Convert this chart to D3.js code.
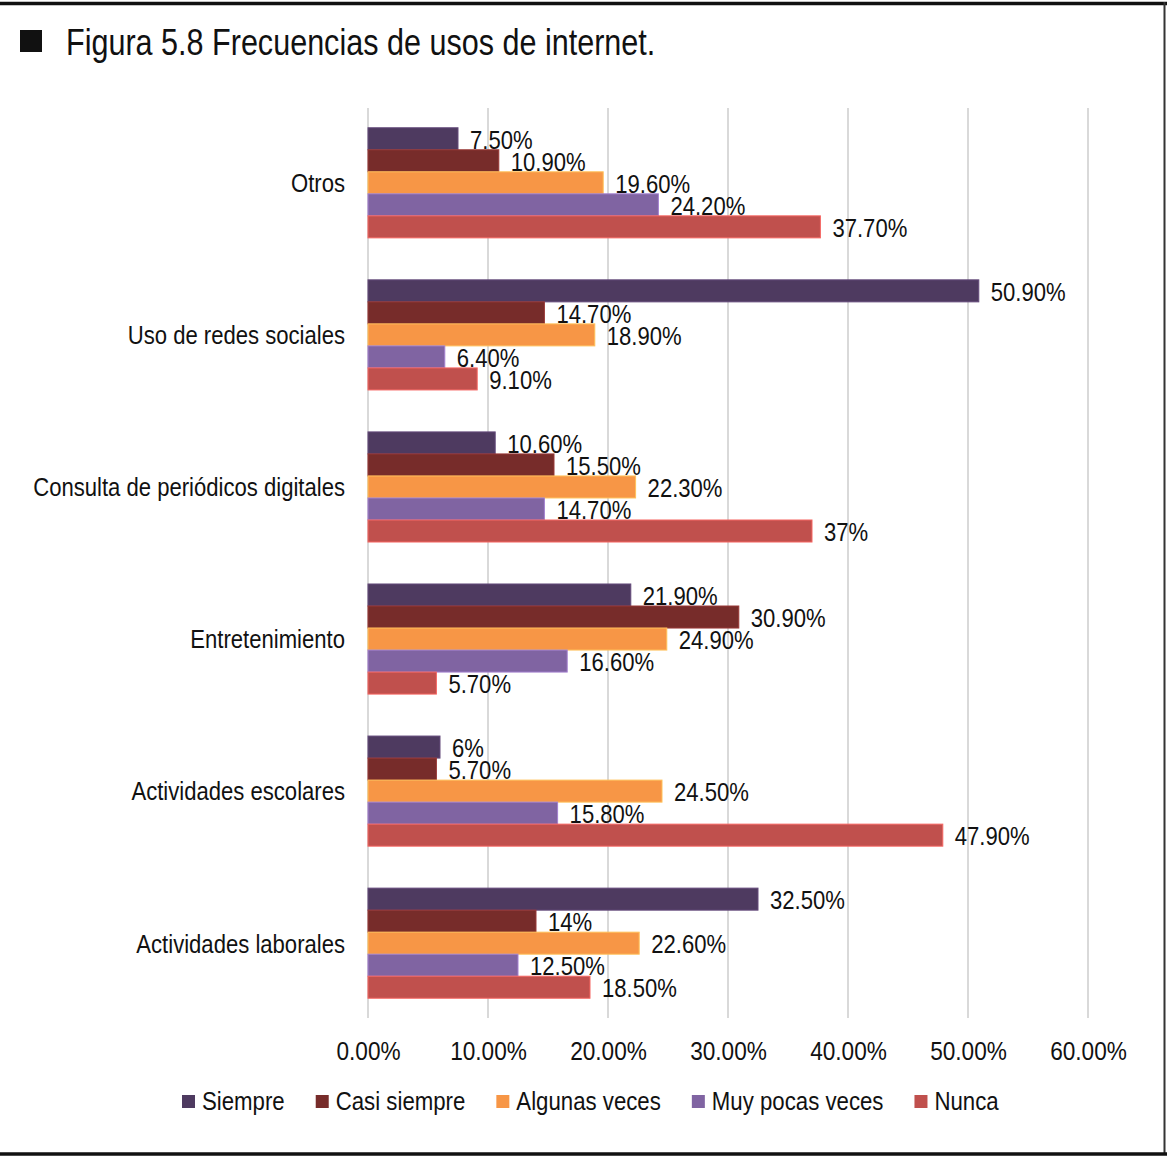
<!DOCTYPE html>
<html>
<head>
<meta charset="utf-8">
<script src="https://cdn.jsdelivr.net/npm/d3@7"></script>
<style>
  html, body { margin: 0; padding: 0; background: #fff; }
  svg { display: block; }
  text { font-family: "Liberation Sans", Arial, sans-serif; fill: #111; }
</style>
</head>
<body>
<svg id="chart" width="1167" height="1157"></svg>
<script>
// Categories, listed top to bottom
const categories = [
  "Otros",
  "Uso de redes sociales",
  "Consulta de periódicos digitales",
  "Entretenimiento",
  "Actividades escolares",
  "Actividades laborales"
];

// Series (percent of respondents), one value per category
const seriesNames = ["Siempre", "Casi siempre", "Algunas veces", "Muy pocas veces", "Nunca"];
const siempre      = [7.5, 50.9, 10.6, 21.9, 6.0, 32.5];
const casiSiempre  = [10.9, 14.7, 15.5, 30.9, 5.7, 14.0];
const algunasVeces = [19.6, 18.9, 22.3, 24.9, 24.5, 22.6];
const muyPocasVeces= [24.2, 6.4, 14.7, 16.6, 15.8, 12.5];
const nunca        = [37.7, 9.1, 37.0, 5.7, 47.9, 18.5];
const seriesValues = [siempre, casiSiempre, algunasVeces, muyPocasVeces, nunca];
const seriesColors = ["#4e3a60", "#772c2a", "#f79646", "#8064a2", "#c0504d"];

// Axis ticks
const tickValues = [0, 10, 20, 30, 40, 50, 60];
const titleText = "Figura 5.8 Frecuencias de usos de internet.";

// Condensed look: squeeze text horizontally around its anchor
const SQ = 0.85;

const svg = d3.select("#chart");
const W = 1167, H = 1157;

// Frame lines (top, right, bottom)
svg.append("line").attr("x1", 0).attr("x2", W).attr("y1", 3.5).attr("y2", 3.5)
  .attr("stroke", "#111").attr("stroke-width", 3.5);
svg.append("line").attr("x1", W - 2.5).attr("x2", W - 2.5).attr("y1", 2).attr("y2", H - 2)
  .attr("stroke", "#333").attr("stroke-width", 2);
svg.append("line").attr("x1", 0).attr("x2", W).attr("y1", H - 3).attr("y2", H - 3)
  .attr("stroke", "#111").attr("stroke-width", 3.5);

// Title with bullet square
svg.append("rect").attr("x", 20).attr("y", 30).attr("width", 22).attr("height", 22).attr("fill", "#111");
svg.append("text").attr("transform", "translate(66,55) scale(0.826,1)")
  .attr("font-size", 37).text(titleText);

// Scales
const x = d3.scaleLinear().domain([0, 60]).range([368, 1088]);
const y = d3.scaleBand().domain(categories).range([108, 1018])
  .paddingInner(0.276).paddingOuter(0.13);
const ySub = d3.scaleBand().domain(seriesNames).range([0, y.bandwidth()]);

// Vertical gridlines
svg.append("g").selectAll("line").data(tickValues).join("line")
  .attr("x1", d => x(d)).attr("x2", d => x(d))
  .attr("y1", 108).attr("y2", 1018)
  .attr("stroke", "#d9d9d9").attr("stroke-width", 2);

// Bottom axis tick labels
const xAxis = d3.axisBottom(x).tickValues(tickValues)
  .tickFormat(d => d.toFixed(2) + "%").tickSize(0).tickPadding(0);
const gx = svg.append("g").attr("transform", "translate(0,1040)").call(xAxis);
gx.select(".domain").remove();
gx.selectAll("text").attr("font-size", 26).attr("dy", "0.75em")
  .attr("transform", "scale(0.87,1)")
  .style("font-family", null).attr("fill", "#111");

// Category labels
const yAxis = d3.axisLeft(y).tickSize(0).tickPadding(0);
const gy = svg.append("g").attr("transform", "translate(345,0)").call(yAxis);
gy.select(".domain").remove();
gy.selectAll("text").attr("font-size", 26).attr("dy", "0.36em")
  .attr("transform", `scale(${SQ},1)`)
  .style("font-family", null).attr("fill", "#111");

// Bars and value labels
const fmt = v => Number.isInteger(v) ? v + "%" : v.toFixed(2) + "%";
const rows = [];
seriesNames.forEach((s, si) => {
  categories.forEach((c, ci) => {
    rows.push({ series: s, si, cat: c, value: seriesValues[si][ci] });
  });
});

const gBars = svg.append("g");
gBars.selectAll("rect").data(rows).join("rect")
  .attr("x", x(0))
  .attr("y", d => y(d.cat) + ySub(d.series))
  .attr("width", d => x(d.value) - x(0))
  .attr("height", ySub.bandwidth())
  .attr("fill", d => seriesColors[d.si])
  .attr("stroke", d => d3.color(seriesColors[d.si]).brighter(0.7))
  .attr("stroke-width", 1);

gBars.selectAll("text").data(rows).join("text")
  .attr("transform", d =>
    `translate(${x(d.value) + 12},${y(d.cat) + ySub(d.series) + ySub.bandwidth() / 2}) scale(${SQ},1)`)
  .attr("dy", "0.38em")
  .attr("font-size", 26)
  .text(d => fmt(d.value));

// Legend
const legend = svg.append("g");
const LSQ = 0.855;
let lx = 182;
seriesNames.forEach((s, i) => {
  legend.append("rect").attr("x", lx).attr("y", 1095).attr("width", 13).attr("height", 13)
    .attr("fill", seriesColors[i]);
  const t = legend.append("text")
    .attr("transform", `translate(${lx + 20},1110) scale(${LSQ},1)`)
    .attr("font-size", 26).text(s);
  lx += 20 + t.node().getComputedTextLength() * LSQ + 31;
});
</script>
</body>
</html>
